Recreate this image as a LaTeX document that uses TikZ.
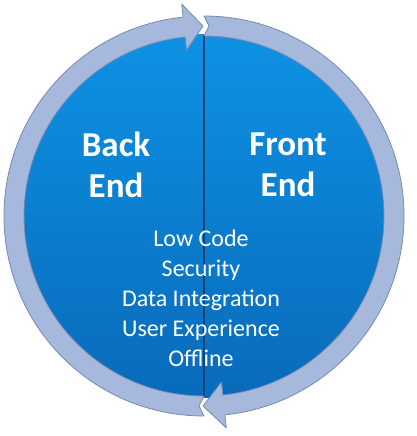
\documentclass[tikz,border=0pt]{standalone}
\usepackage{fontspec}
\setmainfont{Carlito}
\definecolor{ringblue}{RGB}{166,185,220}
\definecolor{ringedge}{RGB}{118,138,178}
\definecolor{disctop}{RGB}{14,146,228}
\definecolor{discbot}{RGB}{9,106,186}
\definecolor{divline}{RGB}{8,66,122}

\begin{document}
\begin{tikzpicture}[x=1pt, y=1pt,
    ring/.style={fill=ringblue, draw=ringedge, line width=0.8pt, line join=round},
    title/.style={text=white, font=\fontsize{35}{41}\selectfont\bfseries, align=center},
    item/.style={text=white, font=\fontsize{24}{30}\selectfont, align=center}]
  \useasboundingbox (0,0) rectangle (416,436);
  \coordinate (c) at (204,220);
  % blue disc and divider
  \shade[top color=disctop, bottom color=discbot] (c) circle[radius=182];
  \coordinate (t) at (204,401);
  \coordinate (b) at (204,39);
  \draw[divline, line width=1.2pt] (t) -- (b);
  % two half-ring arrows
  \begin{scope}[shift={(c)}]
    \path[ring] (270:200) arc[start angle=270, end angle=96, radius=200]
      -- (96:213) -- (90.3:190) -- (96:167) -- (96:180)
      arc[start angle=96, end angle=270, radius=180] -- (268.5:190) -- cycle;
    \path[ring] (90:200) arc[start angle=90, end angle=-84, radius=200]
      -- (-84:213) -- (-90.3:190) -- (-84:167) -- (-84:180)
      arc[start angle=-84, end angle=90, radius=180] -- (88.5:190) -- cycle;
  \end{scope}
  \node[title] (back) at (116,271) {Back\\End};
  \node[title] (front) at (288,271) {Front\\End};
  \node[item] (list) at (201,138) {Low Code\\Security\\Data Integration\\User Experience\\Offline};
\end{tikzpicture}
\end{document}
